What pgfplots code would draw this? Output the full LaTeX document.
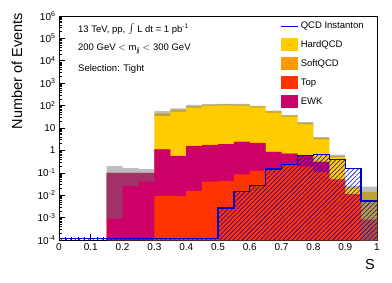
\documentclass[border=0pt]{standalone}
\usepackage{fontspec}
\setmainfont{Liberation Sans}
\usepackage{pgfplots}
\usepackage{pgfplotstable}
\pgfplotsset{compat=1.18}
\usetikzlibrary{patterns,patterns.meta}

\definecolor{hardqcd}{RGB}{255,204,0}
\definecolor{softqcd}{RGB}{255,153,0}
\definecolor{topc}{RGB}{255,51,0}
\definecolor{ewk}{RGB}{204,0,102}
\definecolor{inst}{RGB}{0,0,204}
\definecolor{bandgray}{RGB}{110,110,110}

\pgfplotsset{
  boxlegend/.style={legend image code/.code={\fill[##1, draw=none] (0bp,-6.5bp) rectangle (17bp,6.5bp); \fill[black, draw=none] (8.5bp,0bp) circle (0.35bp);}},
  linelegend/.style={legend image code/.code={\draw[##1] (0bp,0bp) -- (17bp,0bp);}},
}

% cumulative stack heights (HardQCD = total, SoftQCD, EWK), per bin lower edge
\pgfplotstableread{
x     hard    soft    ewk
0.15  0.1     0.1     0.1
0.20  0.1     0.1     0.1
0.25  0.1     0.1     0.1
0.30  45      1.15    1.1
0.35  64      0.58    0.56
0.40  93      1.63    1.57
0.45  108     1.81    1.74
0.50  112     1.98    1.9
0.55  110     2.5     2.4
0.60  92      2.2     2.1
0.65  55      0.88    0.85
0.70  36      0.75    0.72
0.75  17      0.58    0.56
0.80  3.6     0.32    0.31
0.85  0.56    0.05    0.05
0.90  0.022   0.011   0.011
0.95  0.014   8e-4    8e-4
1.00  0.014   8e-4    8e-4
}\stacktable

% Top
\pgfplotstableread{
x     top
0.30  0.0091
0.35  0.0091
0.40  0.0155
0.45  0.040
0.50  0.042
0.55  0.085
0.60  0.125
0.65  0.14
0.70  0.22
0.75  0.19
0.80  0.11
0.85  0.05
0.90  0.011
0.95  8e-4
1.00  8e-4
}\toptable

% QCD instanton
\pgfplotstableread{
x     inst
0.00  1.15e-4
0.05  1.15e-4
0.10  1.15e-4
0.15  1.15e-4
0.20  1.15e-4
0.25  1.15e-4
0.30  1.15e-4
0.35  1.15e-4
0.40  1.15e-4
0.45  1.15e-4
0.50  0.0027
0.55  0.0145
0.60  0.027
0.65  0.15
0.70  0.23
0.75  0.60
0.80  0.67
0.85  0.39
0.90  0.16
0.95  0.0055
1.00  0.0055
}\insttable

\begin{document}
\begin{tikzpicture}
\begin{axis}[
  name=ax,
  at={(0,0)}, anchor=south west,
  scale only axis, width=318bp, height=224bp,
  xmin=0, xmax=1, ymode=log, ymin=1e-4, ymax=1e6,
  log origin y=infty,
  xtick={0,0.1,0.2,0.3,0.4,0.5,0.6,0.7,0.8,0.9,1},
  xticklabels={0,0.1,0.2,0.3,0.4,0.5,0.6,0.7,0.8,0.9,1},
  minor x tick num=4,
  ytick={1e-4,1e-3,1e-2,1e-1,1,10,100,1000,10000,100000,1000000},
  yticklabels={10\textsuperscript{-4},10\textsuperscript{-3},10\textsuperscript{-2},10\textsuperscript{-1},1,10,10\textsuperscript{2},10\textsuperscript{3},10\textsuperscript{4},10\textsuperscript{5},10\textsuperscript{6}},
  minor ytick={2e-4,3e-4,4e-4,5e-4,6e-4,7e-4,8e-4,9e-4,
               2e-3,3e-3,4e-3,5e-3,6e-3,7e-3,8e-3,9e-3,
               2e-2,3e-2,4e-2,5e-2,6e-2,7e-2,8e-2,9e-2,
               0.2,0.3,0.4,0.5,0.6,0.7,0.8,0.9,
               2,3,4,5,6,7,8,9,
               20,30,40,50,60,70,80,90,
               200,300,400,500,600,700,800,900,
               2000,3000,4000,5000,6000,7000,8000,9000,
               2e4,3e4,4e4,5e4,6e4,7e4,8e4,9e4,
               2e5,3e5,4e5,5e5,6e5,7e5,8e5,9e5},
  tick align=inside, xtick pos=bottom, ytick pos=left,
  major tick length=6bp, minor tick length=3.5bp,
  axis line style={line width=0.8bp},
  tick style={black, line width=0.6bp},
  /pgf/number format/assume math mode=true,
  ticklabel style={font=\fontsize{10bp}{12bp}\selectfont},
  xlabel={S},
  xlabel style={at={(rel axis cs:0.9937,-0.085)}, anchor=north east, inner sep=0pt, font=\fontsize{14.5bp}{16bp}\selectfont},
  ylabel={Number of Events},
  ylabel style={at={(rel axis cs:-0.132,1.013)}, anchor=east, inner sep=0pt, font=\fontsize{14.5bp}{16bp}\selectfont},
  legend style={at={(rel axis cs:0.696,0.982)}, anchor=north west, draw=none, fill=none,
     font=\fontsize{9.5bp}{11bp}\selectfont, row sep=6bp, inner sep=0pt,
     /tikz/every even column/.append style={column sep=3bp}},
  legend cell align=left,
]
\addlegendimage{linelegend, draw=inst, line width=1.3bp}
\addlegendentry{QCD Instanton}
\addlegendimage{boxlegend, fill=hardqcd}
\addlegendentry{HardQCD}
\addlegendimage{boxlegend, fill=softqcd}
\addlegendentry{SoftQCD}
\addlegendimage{boxlegend, fill=topc}
\addlegendentry{Top}
\addlegendimage{boxlegend, fill=ewk}
\addlegendentry{EWK}

% stacked histograms (cumulative), drawn from the total downwards
\addplot[forget plot, ybar interval, fill=hardqcd, draw=none] table[x=x, y=hard] {\stacktable};
\addplot[forget plot, ybar interval, fill=softqcd, draw=none] table[x=x, y=soft] {\stacktable};
\addplot[forget plot, ybar interval, fill=ewk, draw=none] table[x=x, y=ewk] {\stacktable};
\addplot[forget plot, ybar interval, fill=topc, draw=none] table[x=x, y=top] {\toptable};

% statistical uncertainty band: upper edges forward, lower edges backward
\addplot[forget plot, const plot mark left, fill=bandgray, fill opacity=0.45, draw=none] coordinates {
 (0.15,0.2) (0.2,0.16) (0.25,0.145) (0.3,57) (0.35,76) (0.4,107) (0.45,117) (0.5,120)
 (0.55,118) (0.6,98) (0.65,60) (0.7,39) (0.75,18.5) (0.8,3.9) (0.85,0.65) (0.9,0.026)
 (0.95,0.024) (1.0,0.024)
 (1.0,1e-5) (0.95,0.02) (0.9,0.5) (0.85,3.2) (0.8,15) (0.75,32) (0.7,48) (0.65,84)
 (0.6,100) (0.55,102) (0.5,99) (0.45,81) (0.4,54) (0.35,35) (0.3,0.04) (0.25,0.026)
 (0.2,9e-4) (0.15,9e-4)
} -- cycle;

% QCD instanton
\addplot[forget plot, ybar interval, pattern={Lines[angle=45, distance=3.2bp, line width=0.55bp]}, pattern color=inst, draw=none] table[x=x, y=inst] {\insttable};
\addplot[forget plot, const plot mark left, draw=inst, line width=1.3bp] table[x=x, y=inst] {\insttable};

\node[anchor=base west, inner sep=0pt, font=\fontsize{9.5bp}{11bp}\selectfont] at (rel axis cs:0.0597,0.927) {13 TeV, pp, {\fontsize{13bp}{13bp}\selectfont$\int$} L dt = 1 pb\textsuperscript{-1}};
\node[anchor=base west, inner sep=0pt, font=\fontsize{9.5bp}{11bp}\selectfont] at (rel axis cs:0.0597,0.845) {200 GeV $<$ m\textsubscript{jj} $<$ 300 GeV};
\node[anchor=base west, inner sep=0pt, font=\fontsize{9.5bp}{11bp}\selectfont] at (rel axis cs:0.0597,0.754) {Selection: Tight};
\end{axis}
\pgfresetboundingbox
\path[use as bounding box] (-59bp,-43bp) rectangle (333bp,240bp);
\end{tikzpicture}
\end{document}
